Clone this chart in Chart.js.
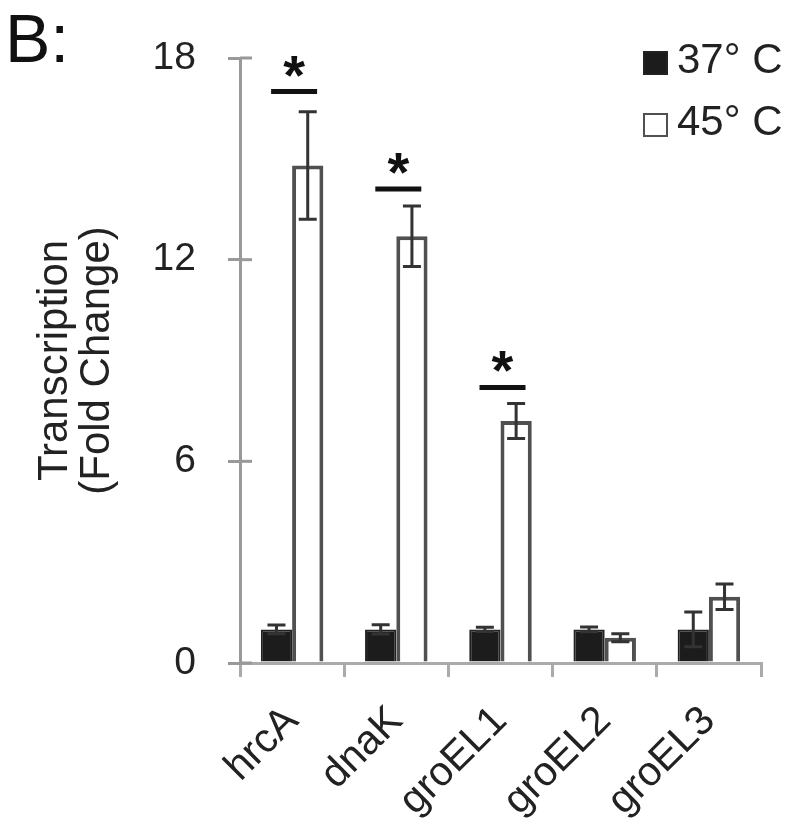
<!DOCTYPE html>
<html>
<head>
<meta charset="utf-8">
<script src="https://cdn.jsdelivr.net/npm/chart.js@4"></script>
<style>
  body { margin: 0; background: #fff; }
  #wrap { position: relative; width: 798px; height: 827px; }
  #panel { position: absolute; left: 5px; top: 4px; font: 68px/68px "Liberation Sans", Arial, sans-serif; color: #111; }
  #legend { position: absolute; left: 643px; top: 28px; font: 42px/62px "Liberation Sans", Arial, sans-serif; color: #222; }
  #legend div { white-space: nowrap; }
  #legend span { display: inline-block; width: 25px; height: 24px; margin-right: 9px; vertical-align: -2px; box-sizing: border-box; }
</style>
</head>
<body>
<div id="wrap">
  <canvas id="chart" width="798" height="827"></canvas>
  <div id="panel">B:</div>
  <div id="legend"></div>
</div>
<script>
// genes on the x axis
const genes = ['hrcA', 'dnaK', 'groEL1', 'groEL2', 'groEL3'];

// fold change at each temperature
const seriesNames = ['37° C', '45° C'];
const fold37 = [1.0, 1.0, 1.0, 1.0, 1.0];
const err37 = [0.13, 0.14, 0.06, 0.07, 0.52];
const fold45 = [14.8, 12.7, 7.2, 0.75, 1.97];
const err45 = [1.6, 0.9, 0.52, 0.12, 0.38];

// significance bars (gene index and height of the bar)
const sigGenes = [0, 1, 2];
const sigLevels = [17.0, 14.1, 8.2];

const yTicks = [0, 6, 12, 18];

const fills = ['#1c1c1c', '#ffffff'];
const borders = ['#222222', '#505050'];

// error bars drawn on top of each bar
const errorBars = {
    id: 'errorBars',
    afterDatasetsDraw(chart) {
        const ctx = chart.ctx;
        const y = chart.scales.y;
        const errs = [err37, err45];
        ctx.save();
        ctx.strokeStyle = '#333';
        ctx.lineWidth = 3;
        chart.data.datasets.forEach((ds, d) => {
            chart.getDatasetMeta(d).data.forEach((bar, i) => {
                const top = y.getPixelForValue(ds.data[i] + errs[d][i]);
                const bot = y.getPixelForValue(ds.data[i] - errs[d][i]);
                ctx.beginPath();
                ctx.moveTo(bar.x, top); ctx.lineTo(bar.x, bot);
                ctx.moveTo(bar.x - 9, top); ctx.lineTo(bar.x + 9, top);
                ctx.moveTo(bar.x - 9, bot); ctx.lineTo(bar.x + 9, bot);
                ctx.stroke();
            });
        });
        ctx.restore();
    }
};

// stars and lines over the significant genes
const sigMarks = {
    id: 'sigMarks',
    afterDatasetsDraw(chart) {
        const ctx = chart.ctx;
        const x = chart.scales.x, y = chart.scales.y;
        ctx.save();
        ctx.strokeStyle = '#111';
        ctx.fillStyle = '#111';
        ctx.lineWidth = 5;
        ctx.font = 'bold 56px "Liberation Sans", Arial, sans-serif';
        ctx.textAlign = 'center';
        ctx.textBaseline = 'alphabetic';
        sigGenes.forEach((g, k) => {
            const cx = x.getPixelForValue(g) + 2;
            const cy = y.getPixelForValue(sigLevels[k]);
            ctx.beginPath();
            ctx.moveTo(cx - 23, cy); ctx.lineTo(cx + 23, cy);
            ctx.stroke();
            ctx.fillText('*', cx, cy + 2);
        });
        ctx.restore();
    }
};

// y ticks cross the axis line
const innerTicks = {
    id: 'innerTicks',
    afterDraw(chart) {
        const ctx = chart.ctx;
        const y = chart.scales.y;
        ctx.save();
        ctx.strokeStyle = '#999';
        ctx.lineWidth = 3;
        y.ticks.forEach((t, i) => {
            const py = y.getPixelForTick(i);
            ctx.beginPath();
            ctx.moveTo(chart.chartArea.left, py);
            ctx.lineTo(chart.chartArea.left + 12, py);
            ctx.stroke();
        });
        ctx.restore();
    }
};

new Chart(document.getElementById('chart'), {
    type: 'bar',
    data: {
        labels: genes,
        datasets: [fold37, fold45].map((vals, d) => ({
            label: seriesNames[d],
            data: vals,
            backgroundColor: fills[d],
            borderColor: borders[d],
            borderWidth: d === 0 ? 2 : 4,
            categoryPercentage: 0.6,
            barPercentage: 1.0
        }))
    },
    options: {
        responsive: false,
        animation: false,
        layout: { padding: { left: 0, top: 58, right: 37, bottom: 0 } },
        plugins: {
            legend: { display: false },
            tooltip: { enabled: false }
        },
        scales: {
            x: {
                afterFit: s => { s.height = 164; },
                grid: { offset: true, drawOnChartArea: false, tickLength: 14, color: '#aaa', lineWidth: 3 },
                border: { color: '#aaa', width: 3 },
                ticks: {
                    minRotation: 45, maxRotation: 45, padding: 20,
                    color: '#222',
                    font: { family: '"Liberation Sans", Arial, sans-serif', size: 41 }
                }
            },
            y: {
                min: 0, max: 18,
                afterFit: s => { s.width = 240; },
                afterBuildTicks: s => { s.ticks = yTicks.map(v => ({ value: v })); },
                grid: { drawOnChartArea: false, tickLength: 12, color: '#999', lineWidth: 3 },
                border: { color: '#999', width: 3 },
                ticks: {
                    padding: 32,
                    color: '#222',
                    font: { family: '"Liberation Sans", Arial, sans-serif', size: 39 }
                },
                title: {
                    display: true,
                    text: ['Transcription', '(Fold Change)'],
                    color: '#222',
                    padding: { top: 34, bottom: 0 },
                    font: { family: '"Liberation Sans", Arial, sans-serif', size: 42, lineHeight: 1.0 }
                }
            }
        }
    },
    plugins: [errorBars, sigMarks, innerTicks]
});

// legend built from the series names and colours
const legend = document.getElementById('legend');
seriesNames.forEach((name, d) => {
    const row = document.createElement('div');
    const box = document.createElement('span');
    box.style.background = fills[d];
    box.style.border = '2px solid ' + borders[d];
    row.appendChild(box);
    row.appendChild(document.createTextNode(name));
    legend.appendChild(row);
});
</script>
</body>
</html>
